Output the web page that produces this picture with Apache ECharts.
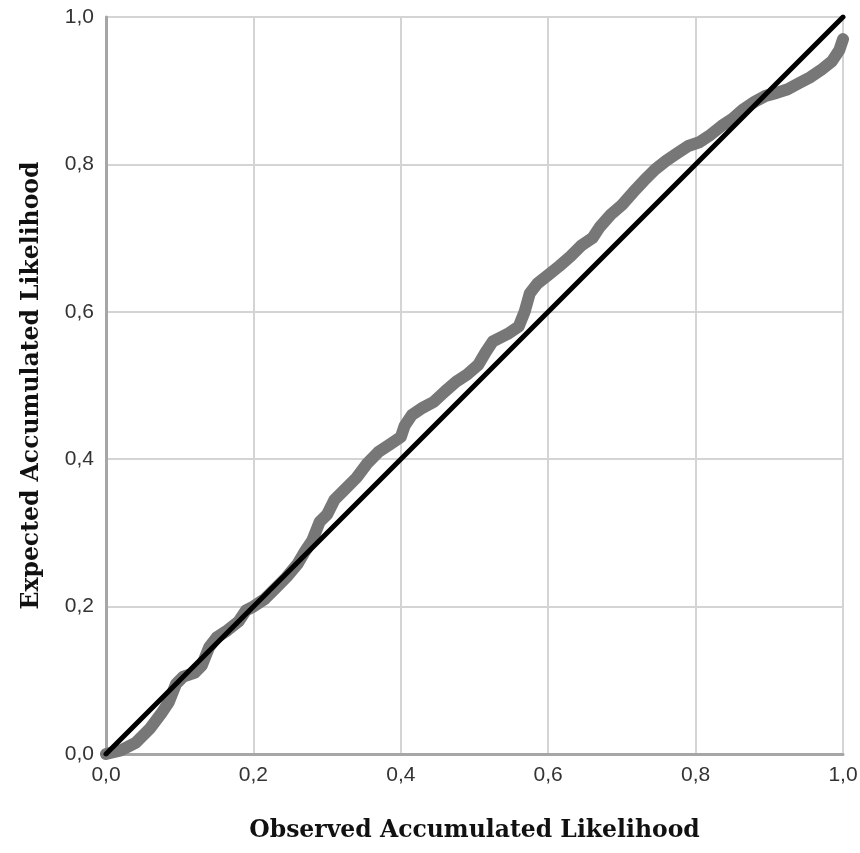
<!DOCTYPE html>
<html>
<head>
<meta charset="utf-8">
<script src="https://cdn.jsdelivr.net/npm/echarts@6/dist/echarts.min.js"></script>
<style>
  html, body { margin: 0; padding: 0; background: #fff; }
  #chart { width: 860px; height: 853px; }
</style>
</head>
<body>
<div id="chart"></div>
<script>
// P-P plot points
const observed = [0, 0.02, 0.04, 0.06, 0.075, 0.085, 0.095, 0.105, 0.12, 0.13, 0.14, 0.15, 0.165, 0.18, 0.19, 0.2,
  0.215, 0.23, 0.245, 0.26, 0.27, 0.28, 0.29, 0.3, 0.31, 0.325, 0.34, 0.355, 0.37, 0.385, 0.4, 0.405, 0.415, 0.43,
  0.445, 0.46, 0.475, 0.49, 0.505, 0.515, 0.525, 0.545, 0.56, 0.568, 0.575, 0.585, 0.6, 0.615, 0.63, 0.645, 0.66,
  0.67, 0.685, 0.7, 0.715, 0.73, 0.745, 0.76, 0.775, 0.79, 0.805, 0.82, 0.835, 0.85, 0.865, 0.88, 0.895, 0.91,
  0.925, 0.94, 0.955, 0.97, 0.985, 0.995, 1];
const expected = [0, 0.005, 0.015, 0.035, 0.055, 0.07, 0.095, 0.105, 0.11, 0.12, 0.145, 0.158, 0.168, 0.18, 0.195, 0.2,
  0.21, 0.225, 0.24, 0.258, 0.275, 0.29, 0.315, 0.325, 0.345, 0.36, 0.375, 0.395, 0.41, 0.42, 0.43, 0.445, 0.46, 0.47,
  0.478, 0.492, 0.505, 0.515, 0.528, 0.545, 0.56, 0.57, 0.58, 0.6, 0.625, 0.638, 0.65, 0.662, 0.675, 0.69, 0.7,
  0.715, 0.732, 0.745, 0.762, 0.778, 0.793, 0.805, 0.815, 0.825, 0.83, 0.84, 0.852, 0.862, 0.875, 0.885, 0.893, 0.897,
  0.902, 0.91, 0.918, 0.928, 0.94, 0.955, 0.97];
const diagonal = [[0, 0], [1, 1]];

const chart = echarts.init(document.getElementById('chart'));

const fmt = v => v.toFixed(1).replace('.', ',');

const axisCommon = {
  type: 'value',
  min: 0,
  max: 1,
  interval: 0.2,
  axisTick: { show: false },
  axisLine: { show: true, lineStyle: { color: '#a6a6a6', width: 3 } },
  splitLine: { show: true, lineStyle: { color: '#d4d4d4', width: 2 } },
  axisLabel: {
    formatter: fmt,
    color: '#333',
    fontFamily: 'Liberation Sans',
    fontSize: 21
  },
  nameLocation: 'middle',
  nameTextStyle: {
    fontFamily: 'DejaVu Serif',
    fontWeight: 'bold',
    fontSize: 23.5,
    color: '#111'
  }
};

const option = {
  animation: false,
  backgroundColor: '#fff',
  grid: {
    left: 106, right: 17, top: 17, bottom: 99,
    outerBoundsMode: 'none',
    show: true, borderColor: '#d4d4d4', borderWidth: 2
  },
  xAxis: Object.assign({}, axisCommon, {
    name: 'Observed Accumulated Likelihood',
    nameGap: 65,
    axisLabel: Object.assign({}, axisCommon.axisLabel, { margin: 11 })
  }),
  yAxis: Object.assign({}, axisCommon, {
    name: 'Expected Accumulated Likelihood',
    nameGap: 62,
    axisLabel: Object.assign({}, axisCommon.axisLabel, { margin: 12, padding: [5, 0, 0, 0] })
  }),
  series: [
    {
      name: 'observed',
      type: 'line',
      data: observed.map((x, i) => [x, expected[i]]),
      showSymbol: false,
      smooth: false,
      lineStyle: { color: '#777777', width: 12, cap: 'round', join: 'round' },
      z: 2
    },
    {
      name: 'diagonal',
      type: 'line',
      data: diagonal,
      showSymbol: false,
      lineStyle: { color: '#000', width: 5, cap: 'round' },
      z: 3
    }
  ]
};

chart.setOption(option);
</script>
</body>
</html>
